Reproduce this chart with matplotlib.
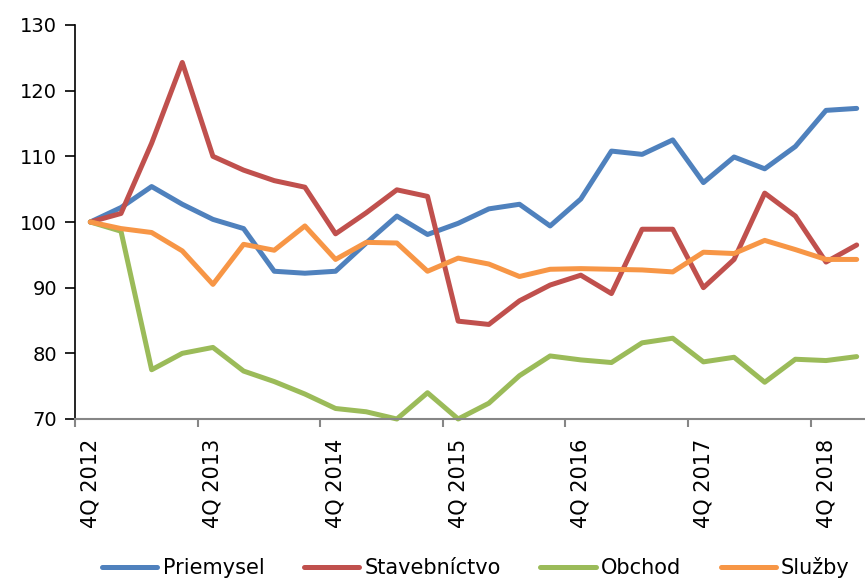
import matplotlib
matplotlib.use("Agg")
import matplotlib.pyplot as plt

quarters = ["4Q 2012", "1Q 2013", "2Q 2013", "3Q 2013", "4Q 2013", "1Q 2014", "2Q 2014",
            "3Q 2014", "4Q 2014", "1Q 2015", "2Q 2015", "3Q 2015", "4Q 2015", "1Q 2016",
            "2Q 2016", "3Q 2016", "4Q 2016", "1Q 2017", "2Q 2017", "3Q 2017", "4Q 2017",
            "1Q 2018", "2Q 2018", "3Q 2018", "4Q 2018", "1Q 2019"]

priemysel = [100.0, 102.2, 105.4, 102.7, 100.4, 99.0, 92.5, 92.2, 92.5, 96.8, 100.9, 98.1,
             99.8, 102.0, 102.7, 99.4, 103.5, 110.8, 110.3, 112.5, 106.0, 109.9, 108.1,
             111.5, 117.0, 117.3]
stavebnictvo = [100.0, 101.3, 112.0, 124.3, 110.0, 107.9, 106.3, 105.3, 98.2, 101.4, 104.9,
                103.9, 84.9, 84.4, 88.0, 90.4, 91.9, 89.1, 98.9, 98.9, 90.0, 94.3, 104.4,
                100.9, 93.9, 96.5]
obchod = [100.0, 98.6, 77.5, 80.0, 80.9, 77.3, 75.7, 73.8, 71.6, 71.1, 70.0, 74.0, 70.0,
          72.4, 76.6, 79.6, 79.0, 78.6, 81.6, 82.3, 78.7, 79.4, 75.6, 79.1, 78.9, 79.5]
sluzby = [100.0, 99.0, 98.4, 95.6, 90.5, 96.6, 95.7, 99.4, 94.3, 96.9, 96.8, 92.5, 94.5,
          93.6, 91.7, 92.8, 92.9, 92.8, 92.7, 92.4, 95.4, 95.2, 97.2, 95.8, 94.3, 94.3]

series_names = ["Priemysel", "Stavebníctvo", "Obchod", "Služby"]
series_values = [priemysel, stavebnictvo, obchod, sluzby]
colors = ["#4F81BD", "#C0504D", "#9BBB59", "#F79646"]

W, H = 865, 580
fig = plt.figure(figsize=(W / 100, H / 100), dpi=100)
left, right, top, bottom = 75, 872, 25, 419
ax = fig.add_axes([left / W, 1 - bottom / H, (right - left) / W, (bottom - top) / H])

x = list(range(len(quarters)))
for name, vals, c in zip(series_names, series_values, colors):
    ax.plot(x, vals, color=c, lw=3.6, label=name, solid_joinstyle="round",
            solid_capstyle="round", clip_on=False)

ax.set_xlim(-0.5, len(quarters) - 0.5)
ax.set_ylim(70, 130)
ax.set_yticks(range(70, 131, 10))
ax.tick_params(axis="y", which="major", direction="out", length=7, width=1.2,
               color="black", labelsize=14, pad=6)

# x ticks at category boundaries every 4 quarters; labels at category centers
ax.set_xticks([i - 0.5 for i in range(0, len(quarters), 4)])
ax.set_xticklabels([])
ax.tick_params(axis="x", which="major", direction="out", length=6, width=1.5,
               color="#868686")
ax.set_xticks(list(range(0, len(quarters), 4)), minor=True)
ax.set_xticklabels([quarters[i] for i in range(0, len(quarters), 4)], minor=True,
                   rotation=90, fontsize=15)
ax.tick_params(axis="x", which="minor", length=0, pad=14)

for s in ["top", "right"]:
    ax.spines[s].set_visible(False)
ax.spines["left"].set_color("black")
ax.spines["left"].set_linewidth(1.2)
ax.spines["bottom"].set_color("#868686")
ax.spines["bottom"].set_linewidth(1.5)

handles, labels = ax.get_legend_handles_labels()
fig.legend(handles, labels, loc="center", bbox_to_anchor=(476 / W, 1 - 568 / H),
           ncol=4, frameon=False, fontsize=15, handlelength=2.65, handletextpad=0.25,
           columnspacing=1.9, borderaxespad=0, borderpad=0)

fig.savefig("out.png", dpi=100)
